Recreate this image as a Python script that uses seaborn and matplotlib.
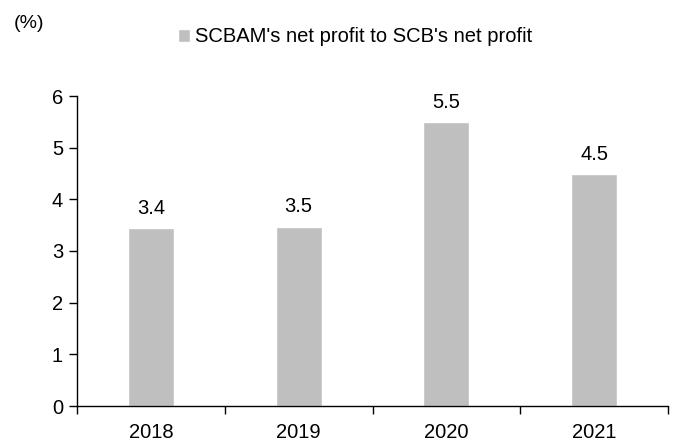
import matplotlib
matplotlib.use("Agg")
import matplotlib.pyplot as plt
import seaborn as sns
import pandas as pd
import numpy as np

years = ["2018", "2019", "2020", "2021"]
share = [3.44, 3.47, 5.49, 4.49]
labels = ["3.4", "3.5", "5.5", "4.5"]
series_name = "SCBAM's net profit to SCB's net profit"

df = pd.DataFrame({"year": years, "share": share, "series": series_name})

sns.set_style("ticks")
plt.rcParams["font.family"] = ["Liberation Sans", "DejaVu Sans"]
plt.rcParams["text.color"] = "black"
plt.rcParams["xtick.color"] = "black"
plt.rcParams["ytick.color"] = "black"

fs = 14.5

fig = plt.figure(figsize=(6.75, 4.45), dpi=100)
ax = fig.add_axes([77 / 675, 1 - 406 / 445, (668 - 77) / 675, (406 - 96) / 445])

sns.barplot(data=df, x="year", y="share", hue="series", palette=["#bfbfbf"],
            width=0.31, saturation=1, ax=ax, legend=True)

for i, lab in enumerate(labels):
    ax.text(i, share[i] + 0.2, lab, ha="center", va="bottom", fontsize=fs)

ax.set_xlim(-0.5, 3.5)
ax.set_ylim(0, 6)
ax.set_yticks(range(0, 7))
ax.set_xlabel("")
ax.set_ylabel("")
ax.tick_params(axis="x", which="major", length=0, labelsize=fs, pad=12)
ax.set_xticks(np.arange(-0.5, 3.6, 1), minor=True)
ax.tick_params(axis="x", which="minor", length=6, width=1, color="black", direction="out")
ax.tick_params(axis="y", length=6, width=1, color="black", labelsize=fs, pad=4)
for s in ["top", "right"]:
    ax.spines[s].set_visible(False)
for s in ["left", "bottom"]:
    ax.spines[s].set_color("black")
    ax.spines[s].set_linewidth(1)

leg = ax.legend(loc="center left", bbox_to_anchor=(178 / 675, 1 - 37 / 445),
                bbox_transform=fig.transFigure, frameon=False, fontsize=fs,
                handlelength=0.6, handleheight=0.65, handletextpad=0.25,
                borderpad=0, borderaxespad=0)

fig.text(14 / 675, 1 - 23 / 445, "(%)", fontsize=14, va="center", ha="left")

fig.savefig("out.png", dpi=100)
